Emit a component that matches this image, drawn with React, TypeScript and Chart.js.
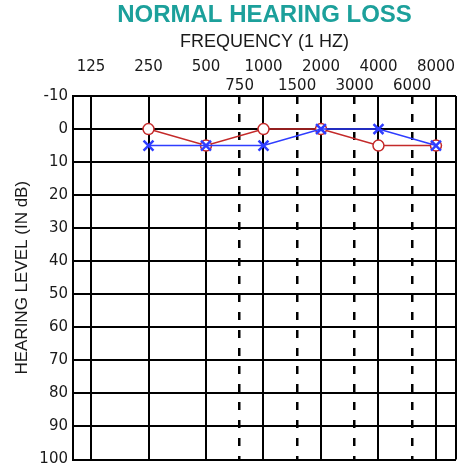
import { useEffect, useRef } from "react";
import { Chart, registerables } from "chart.js";

Chart.register(...registerables);

// ---- data ----
const octaveFreqs = [125, 250, 500, 1000, 2000, 4000, 8000];
const midFreqs = [750, 1500, 3000, 6000];
const testFreqs = [250, 500, 1000, 2000, 4000, 8000];
const rightEar = [0, 5, 0, 0, 5, 5]; // red circles
const leftEar = [5, 5, 5, 0, 0, 5]; // blue crosses
const levelTicks = [-10, 0, 10, 20, 30, 40, 50, 60, 70, 80, 90, 100];

const X_MIN = 100.6;
const X_MAX = 10185;

const RED = "#c42a2a";
const BLUE = "#2f3dff";
const TEAL = "#1ca09b";
const TXT = "#1a1a1a";

export default function App() {
  const ref = useRef<HTMLCanvasElement | null>(null);

  useEffect(() => {
    document.body.style.margin = "0";
    document.body.style.overflow = "hidden";
    if (!ref.current) return;
    const tickFont = { family: "DejaVu Sans", size: 15 };
    const chart = new Chart(ref.current, {
      type: "line",
      data: {
        datasets: [
          {
            label: "Left",
            data: testFreqs.map((f, i) => ({ x: f, y: leftEar[i] })),
            borderColor: BLUE,
            backgroundColor: BLUE,
            borderWidth: 1.5,
            pointStyle: "crossRot",
            pointRadius: 7,
            pointBorderWidth: 2.5,
            pointBorderColor: BLUE,
            xAxisID: "x",
            yAxisID: "y",
            order: 0,
          },
          {
            label: "Right",
            data: testFreqs.map((f, i) => ({ x: f, y: rightEar[i] })),
            borderColor: RED,
            backgroundColor: "#ffffff",
            borderWidth: 1.5,
            pointStyle: "circle",
            pointRadius: 5.5,
            pointBorderWidth: 1.5,
            pointBorderColor: RED,
            pointBackgroundColor: "#ffffff",
            xAxisID: "x",
            yAxisID: "y",
            order: 1,
          },
        ],
      },
      options: {
        animation: false,
        responsive: true,
        maintainAspectRatio: false,
        layout: { padding: { left: 0, right: 10, top: 0, bottom: 7 } },
        plugins: {
          legend: { display: false },
          tooltip: { enabled: false },
          title: {
            display: true,
            text: "NORMAL HEARING LOSS",
            color: TEAL,
            fullSize: false,
            font: { family: "Liberation Sans", size: 24, weight: "bold" },
            padding: { top: 1, bottom: 1 },
          },
          subtitle: {
            display: true,
            text: "FREQUENCY (1 HZ)",
            color: TXT,
            fullSize: false,
            font: { family: "Liberation Sans", size: 18 },
            padding: { top: 0, bottom: 0 },
          },
        },
        scales: {
          x: {
            type: "logarithmic",
            position: "top",
            weight: 1,
            min: X_MIN,
            max: X_MAX,
            afterBuildTicks: (s: any) => {
              s.ticks = [X_MIN, ...octaveFreqs, X_MAX].map((v) => ({ value: v }));
            },
            afterFit: (s: any) => {
              s.height = 24.6;
              s.paddingLeft = 0;
              s.paddingRight = 0;
            },
            ticks: {
              autoSkip: false,
              maxRotation: 0,
              minRotation: 0,
              padding: 1,
              color: TXT,
              font: tickFont,
              callback: (v: any) => (octaveFreqs.includes(Number(v)) ? String(v) : ""),
            },
            grid: { color: "#000", lineWidth: 2, drawTicks: false },
            border: { display: false },
          },
          x2: {
            type: "logarithmic",
            position: "top",
            weight: 0,
            min: X_MIN,
            max: X_MAX,
            afterBuildTicks: (s: any) => {
              s.ticks = midFreqs.map((v) => ({ value: v }));
            },
            afterFit: (s: any) => {
              s.height = 19;
              s.paddingLeft = 0;
              s.paddingRight = 0;
            },
            ticks: {
              autoSkip: false,
              maxRotation: 0,
              minRotation: 0,
              padding: 1,
              color: TXT,
              font: tickFont,
              callback: (v: any) => String(v),
            },
            grid: { color: "#000", lineWidth: 2.5, drawTicks: false },
            border: { display: false, dash: [8, 10] },
          },
          y: {
            type: "linear",
            position: "left",
            reverse: true,
            min: -10,
            max: 100,
            afterBuildTicks: (s: any) => {
              s.ticks = levelTicks.map((v) => ({ value: v }));
            },
            afterFit: (s: any) => {
              s.width = 73;
              s.paddingTop = 0;
              s.paddingBottom = 0;
            },
            ticks: { padding: 5, color: TXT, font: tickFont },
            grid: { color: "#000", lineWidth: 2, drawTicks: false },
            border: { display: true, color: "#000", width: 2 },
            title: {
              display: true,
              text: "HEARING LEVEL (IN dB)",
              color: TXT,
              font: { family: "Liberation Sans", size: 17 },
              padding: { top: 12, bottom: 0 },
            },
          },
        },
      } as any,
    });
    return () => chart.destroy();
  }, []);

  return (
    <div style={{ width: "466px", height: "469px", position: "relative" }}>
      <canvas ref={ref} />
    </div>
  );
}
